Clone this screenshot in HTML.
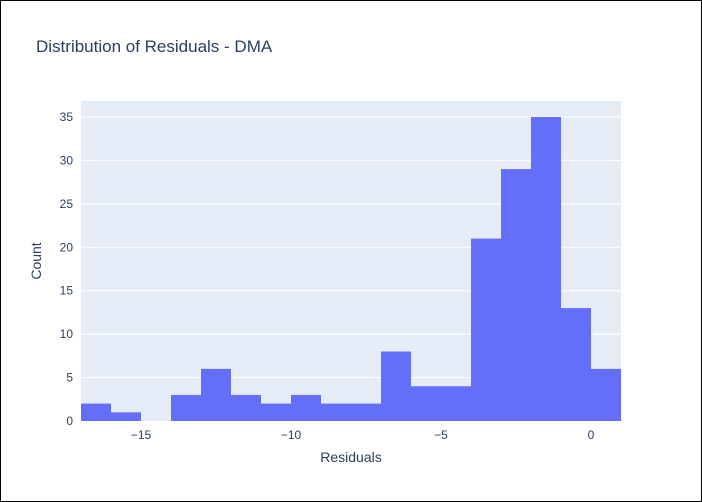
<!DOCTYPE html>
<html><head><meta charset="utf-8"><style>
body{margin:0;background:#fff}
#wrap{width:700px;height:500px;border:1px solid #000;position:relative;overflow:hidden}
svg text{font-family:"Liberation Sans",sans-serif;fill:#2a3f5f}
</style></head><body>
<div id="wrap">
<svg id="chart" width="700" height="500">
<text x="35" y="51" font-size="17">Distribution of Residuals - DMA</text>
<rect x="80" y="100" width="540" height="320" fill="#e5ecf6"/>
<g id="grid"></g><g id="bars"></g><g id="ticks"></g>
<text x="350" y="461" font-size="14" text-anchor="middle">Residuals</text>
<text transform="translate(40,260) rotate(-90)" font-size="14" text-anchor="middle">Count</text>
</svg></div>
<script>
const binStarts=[-17,-16,-15,-14,-13,-12,-11,-10,-9,-8,-7,-6,-5,-4,-3,-2,-1,0];
const counts=[2,1,0,3,6,3,2,3,2,2,8,4,4,21,29,35,13,6];
const xTicks=[-15,-10,-5,0];
const xTickLabels=["−15","−10","−5","0"];
const yTicks=[0,5,10,15,20,25,30,35];
const binWidth=1;
const X=v=>80+(v+17)*30;
const Y=v=>420-v*(320/36.84);
const ns="http://www.w3.org/2000/svg";
const g=document.getElementById('grid'),b=document.getElementById('bars'),t=document.getElementById('ticks');
yTicks.forEach(v=>{
 if(v>0){const l=document.createElementNS(ns,'line');
 l.setAttribute('x1',80);l.setAttribute('x2',620);l.setAttribute('y1',Y(v));l.setAttribute('y2',Y(v));
 l.setAttribute('stroke','#fff');l.setAttribute('stroke-width',1);
 
 
 g.appendChild(l);}
 const tx=document.createElementNS(ns,'text');
 tx.setAttribute('x',72);tx.setAttribute('y',Y(v)+4);tx.setAttribute('text-anchor','end');tx.setAttribute('font-size',12);
 tx.textContent=v;
 
 
 t.appendChild(tx);
});
binStarts.forEach((s,i)=>{
 const r=document.createElementNS(ns,'rect');
 r.setAttribute('x',X(s));r.setAttribute('width',X(s+binWidth)-X(s));
 r.setAttribute('y',Y(counts[i]));r.setAttribute('height',420-Y(counts[i]));
 r.setAttribute('fill','#636efa');
 
 
 b.appendChild(r);
});
xTicks.forEach((v,i)=>{
 const tx=document.createElementNS(ns,'text');
 tx.setAttribute('x',X(v));tx.setAttribute('y',438);tx.setAttribute('text-anchor','middle');tx.setAttribute('font-size',12);
 tx.textContent=xTickLabels[i];
 
 
 t.appendChild(tx);
});
</script>
</body></html>
